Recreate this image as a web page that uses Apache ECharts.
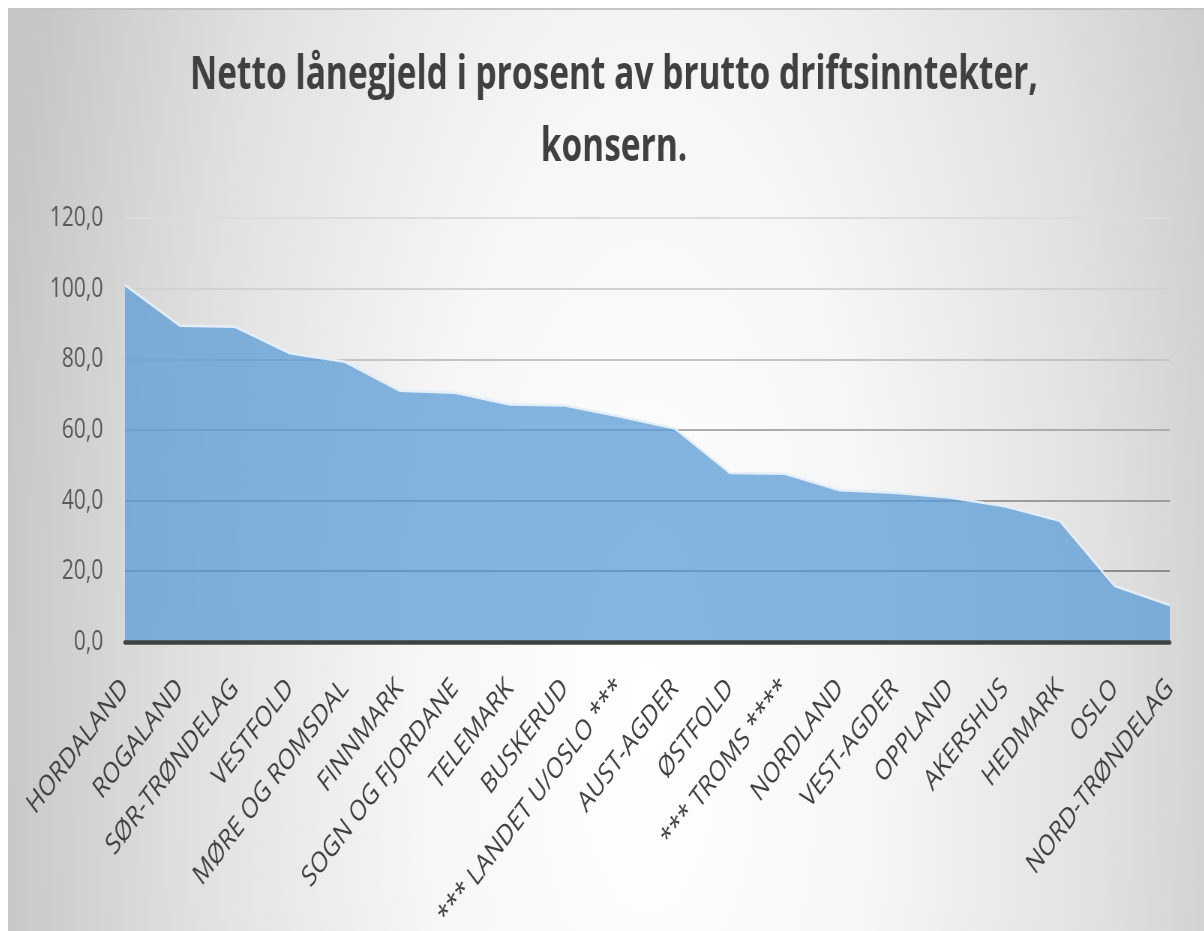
<!DOCTYPE html>
<html>
<head>
<meta charset="utf-8">
<script src="https://cdn.jsdelivr.net/npm/echarts@6/dist/echarts.min.js"></script>
<style>
    html, body { margin: 0; padding: 0; background: #fff; overflow: hidden; }
    #frame {
        position: absolute; left: 8px; top: 8px; width: 1196px; height: 923px; overflow: hidden;
        border-top: 2px solid #c4c4c4;
        background: radial-gradient(ellipse 660px 1800px at 640px 700px, #ffffff 0%, #f6f6f6 35%, #e0e0e0 70%, #c6c6c6 100%);
    }
    /* the reference is squeezed sideways, so the chart is drawn wider and scaled back */
    #chartDiv { width: 1595px; height: 923px; transform: scaleX(0.75); transform-origin: 0 0; }
</style>
</head>
<body>
<div id="frame"><div id="chartDiv"></div></div>
<script>
// fylker
var fylker = ['HORDALAND', 'ROGALAND', 'SØR-TRØNDELAG', 'VESTFOLD', 'MØRE OG ROMSDAL', 'FINNMARK',
    'SOGN OG FJORDANE', 'TELEMARK', 'BUSKERUD', '*** LANDET U/OSLO ***', 'AUST-AGDER', 'ØSTFOLD',
    '*** TROMS ****', 'NORDLAND', 'VEST-AGDER', 'OPPLAND', 'AKERSHUS', 'HEDMARK', 'OSLO', 'NORD-TRØNDELAG'];
// netto lånegjeld i prosent
var verdier = [101.0, 89.5, 89.2, 81.7, 79.3, 71.1, 70.5, 67.2, 66.9, 63.8, 60.4, 47.8,
    47.6, 42.9, 42.2, 40.9, 38.4, 34.3, 15.8, 10.4];
var yTicks = [0, 20, 40, 60, 80, 100, 120];
var tittel = ['Netto lånegjeld i prosent av brutto driftsinntekter,', 'konsern.'];

var Chart1 = echarts.init(document.getElementById('chartDiv'));

var option = {
    animation: false,
    graphic: [
        {type: 'text', x: 808, y: 66, scaleX: 0.97,
            style: {text: tittel[0], fontFamily: 'Open Sans', fontWeight: 'bold', fontSize: 46,
                fill: '#404040', align: 'center', verticalAlign: 'middle'}},
        {type: 'text', x: 808, y: 138, scaleX: 0.97,
            style: {text: tittel[1], fontFamily: 'Open Sans', fontWeight: 'bold', fontSize: 46,
                fill: '#404040', align: 'center', verticalAlign: 'middle'}}
    ],
    grid: {left: 156, right: 46, top: 208, bottom: 290},
    xAxis: {
        type: 'category',
        data: fylker,
        boundaryGap: false,
        z: 5,
        axisLine: {lineStyle: {color: '#404040', width: 4.5}},
        axisTick: {show: false},
        axisLabel: {rotate: 45, margin: 42, interval: 0, fontFamily: 'Open Sans', fontSize: 29, color: '#404040'}
    },
    yAxis: {
        type: 'value',
        min: yTicks[0],
        max: yTicks[yTicks.length - 1],
        interval: 20,
        axisLine: {show: false},
        axisTick: {show: false},
        axisLabel: {
            margin: 29, fontFamily: 'Open Sans', fontSize: 28, color: '#595959',
            formatter: function (v) { return v.toFixed(1).replace('.', ','); }
        },
        splitLine: {lineStyle: {width: 2,
            color: ['#888888', '#8c8c8c', '#9c9c9c', '#acacac', '#c4c4c4', '#d2d2d2', '#dcdcdc']}}
    },
    series: [{
        type: 'line',
        data: verdier,
        symbol: 'none',
        lineStyle: {color: '#e4eef8', width: 2.5},
        areaStyle: {color: '#5b9bd5', opacity: 0.75}
    }]
};

Chart1.setOption(option);
</script>
</body>
</html>
